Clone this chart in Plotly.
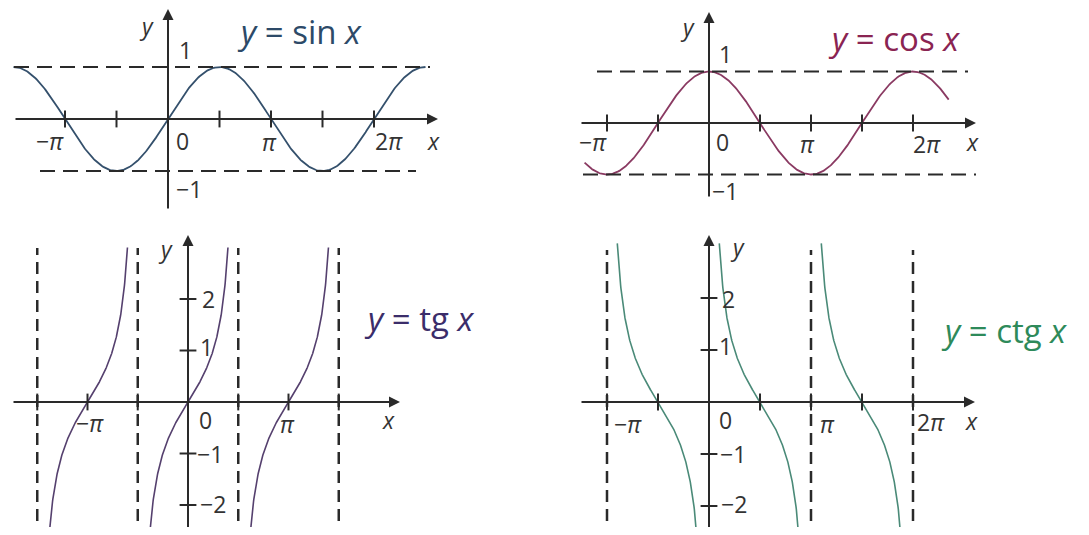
import numpy as np
import plotly.graph_objects as go

W, H = 1089, 535
OFF = 8                      # page body margin
FW, FH = W - 2 * OFF, H - 2 * OFF
PI = np.pi

# panel geometry in screen pixels: box (x0, x1, y0, y1), origin (ox, oy), px per pi, px per unit
panels = {
    "sin": dict(box=(8, 455, 8, 218), o=(168, 119), kx=103, ky=52),
    "cos": dict(box=(560, 1000, 8, 218), o=(709, 123), kx=102, ky=51.5),
    "tg": dict(box=(8, 545, 222, 527), o=(188, 402), kx=100.5, ky=51.5),
    "ctg": dict(box=(560, 1081, 222, 527), o=(709, 402), kx=102, ky=52),
}

# function ranges (in multiples of pi)
sin_x = (-1.5, 2.5)
cos_x = (-1.22, 2.35)
tg_centers = [-1, 0, 1]          # branches centred on k*pi
ctg_starts = [-1, 0, 1]          # branches on (k*pi, (k+1)*pi)
tg_top, tg_bottom = 3.0, -4.0
ctg_top, ctg_bottom = 3.05, -4.0

# tick positions (multiples of pi) and y ticks
sin_xticks = [-1, -0.5, 0.5, 1, 1.5, 2]
cos_xticks = [-1, -0.5, 0.5, 1, 1.5, 2]
tg_xticks = [-1.5, -1, -0.5, 0.5, 1, 1.5]
ctg_xticks = [-1, -0.5, 0.5, 1, 1.5, 2]
tg_yticks = [2, 1, -1, -2]
ctg_yticks = [2, 1, -1, -2]
tg_asymptotes = [-1.5, -0.5, 0.5, 1.5]
ctg_asymptotes = [-1, 1, 2]

titles = {"sin": "<i>y</i> = sin <i>x</i>", "cos": "<i>y</i> = cos <i>x</i>",
          "tg": "<i>y</i> = tg <i>x</i>", "ctg": "<i>y</i> = ctg <i>x</i>"}
title_colors = {"sin": "#2d4a68", "cos": "#8a2452", "tg": "#3b2d6a", "ctg": "#2e8a5a"}
curve_colors = {"sin": "#34506c", "cos": "#8a3a62", "tg": "#55406e", "ctg": "#4a8a78"}

# text labels: (text, px, py)
labels = {
    "sin": [("<i>y</i>", 146, 26), ("1", 185, 50), ("0", 182, 141), ("−1", 189, 189),
            ("−<i>π</i>", 50, 141), ("<i>π</i>", 269, 142), ("2<i>π</i>", 389, 141), ("<i>x</i>", 433, 141)],
    "cos": [("<i>y</i>", 687, 27), ("1", 725, 54), ("0", 722, 142), ("−1", 725, 191),
            ("−<i>π</i>", 593, 142), ("<i>π</i>", 807, 144), ("2<i>π</i>", 927, 144), ("<i>x</i>", 972, 142)],
    "tg": [("<i>y</i>", 165, 249), ("2", 208, 299), ("1", 206, 347), ("0", 205, 420), ("−1", 210, 454),
           ("−2", 213, 504), ("−<i>π</i>", 90, 423), ("<i>π</i>", 287, 424), ("<i>x</i>", 388, 420)],
    "ctg": [("<i>y</i>", 737, 247), ("2", 728, 299), ("1", 725, 346), ("0", 725, 420), ("−1", 733, 454),
            ("−2", 734, 504), ("−<i>π</i>", 628, 424), ("<i>π</i>", 827, 424), ("2<i>π</i>", 931, 422),
            ("<i>x</i>", 971, 421)],
}
title_pos = {"sin": (299, 31), "cos": (894, 38), "tg": (419, 318), "ctg": (1004, 330)}

# axis extents in pixels: x-axis (left, right), y-axis (bottom, top)
axis_px = {"sin": ((14, 438), (210, 9)), "cos": ((580, 976), (198, 12)),
           "tg": ((12, 400), (540, 235)), "ctg": ((580, 975), (540, 235))}
# dashed horizontal lines (y, left px, right px)
hdash = {"sin": [(1, 14, 430), (-1, 40, 416)], "cos": [(1, 597, 968), (-1, 583, 976)]}

AXC = "#2a2a2a"
fig = go.Figure()


def p2d(name, px, py):
    p = panels[name]
    return (px - p["o"][0]) / p["kx"] * PI, (p["o"][1] - py) / p["ky"]


order = ["sin", "cos", "tg", "ctg"]
for i, name in enumerate(order):
    p = panels[name]
    x0, x1, y0, y1 = p["box"]
    xa = "xaxis" if i == 0 else f"xaxis{i + 1}"
    ya = "yaxis" if i == 0 else f"yaxis{i + 1}"
    xr = "x" if i == 0 else f"x{i + 1}"
    yr = "y" if i == 0 else f"y{i + 1}"
    p["xr"], p["yr"] = xr, yr
    dx0, dy1 = p2d(name, x0, y1)
    dx1, dy0 = p2d(name, x1, y0)
    fig.update_layout({
        xa: dict(domain=[(x0 - OFF) / FW, (x1 - OFF) / FW], range=[dx0, dx1], visible=False, fixedrange=True),
        ya: dict(domain=[1 - (y1 - OFF) / FH, 1 - (y0 - OFF) / FH], range=[dy1, dy0], visible=False,
                 fixedrange=True),
    })

    # axes with arrows
    (ax_l, ax_r), (ay_b, ay_t) = axis_px[name]
    xl, _ = p2d(name, ax_l, 0)
    xrr, _ = p2d(name, ax_r, 0)
    _, yb = p2d(name, 0, ay_b)
    _, yt = p2d(name, 0, ay_t)
    for (tx, ty, sx, sy) in [(xrr, 0, xl, 0), (0, yt, 0, yb)]:
        fig.add_annotation(x=tx, y=ty, ax=sx, ay=sy, xref=xr, yref=yr, axref=xr, ayref=yr,
                           text="", showarrow=True, arrowhead=2, arrowsize=1.1, arrowwidth=2,
                           arrowcolor=AXC, standoff=0)

    # dashed lines
    for (yv, l, r) in hdash.get(name, []):
        dl, _ = p2d(name, l, 0)
        dr, _ = p2d(name, r, 0)
        fig.add_shape(type="line", xref=xr, yref=yr, x0=dl, x1=dr, y0=yv, y1=yv,
                      line=dict(color=AXC, width=2, dash="15px,8px"))

    # title and labels
    tx, ty = p2d(name, *title_pos[name])
    fig.add_annotation(x=tx, y=ty, xref=xr, yref=yr, text=titles[name], showarrow=False,
                       font=dict(family="Open Sans", size=33, color=title_colors[name]))
    for (t, lx, ly) in labels[name]:
        dxl, dyl = p2d(name, lx, ly)
        fig.add_annotation(x=dxl, y=dyl, xref=xr, yref=yr, text=t, showarrow=False,
                           font=dict(family="Open Sans", size=23, color="#333333"))

# curves
xs = np.linspace(sin_x[0] * PI, sin_x[1] * PI, 400)
fig.add_trace(go.Scatter(x=xs, y=np.sin(xs), mode="lines", xaxis="x", yaxis="y",
                         line=dict(color=curve_colors["sin"], width=1.8)))
xc = np.linspace(cos_x[0] * PI, cos_x[1] * PI, 400)
fig.add_trace(go.Scatter(x=xc, y=np.cos(xc), mode="lines", xaxis="x2", yaxis="y2",
                         line=dict(color=curve_colors["cos"], width=1.8)))
for k in tg_centers:
    xt = np.linspace(k * PI + np.arctan(tg_bottom), k * PI + np.arctan(tg_top), 300)
    fig.add_trace(go.Scatter(x=xt, y=np.tan(xt), mode="lines", xaxis="x3", yaxis="y3",
                             line=dict(color=curve_colors["tg"], width=1.6)))
for k in ctg_starts:
    xk = np.linspace(k * PI + np.arctan(1 / ctg_top), k * PI + PI / 2 + np.arctan(-ctg_bottom), 300)
    fig.add_trace(go.Scatter(x=xk, y=1 / np.tan(xk), mode="lines", xaxis="x4", yaxis="y4",
                             line=dict(color=curve_colors["ctg"], width=1.6)))

# vertical asymptotes
for name, vals, top_px in [("tg", tg_asymptotes, 248), ("ctg", ctg_asymptotes, 250)]:
    p = panels[name]
    _, ytop = p2d(name, 0, top_px)
    _, ybot = p2d(name, 0, 540)
    for v in vals:
        fig.add_shape(type="line", xref=p["xr"], yref=p["yr"], x0=v * PI, x1=v * PI, y0=ybot, y1=ytop,
                      line=dict(color=AXC, width=2.5, dash="12px,7px"))

# tick marks
for name, ticks in [("sin", sin_xticks), ("cos", cos_xticks), ("tg", tg_xticks), ("ctg", ctg_xticks)]:
    p = panels[name]
    fig.add_trace(go.Scatter(x=[t * PI for t in ticks], y=[0] * len(ticks), mode="markers",
                             xaxis=p["xr"], yaxis=p["yr"],
                             marker=dict(symbol="line-ns-open", size=12, color=AXC,
                                         line=dict(color=AXC, width=2))))
for name, ticks in [("tg", tg_yticks), ("ctg", ctg_yticks)]:
    p = panels[name]
    fig.add_trace(go.Scatter(x=[0] * len(ticks), y=ticks, mode="markers",
                             xaxis=p["xr"], yaxis=p["yr"],
                             marker=dict(symbol="line-ew-open", size=12, color=AXC,
                                         line=dict(color=AXC, width=2))))

fig.update_layout(width=FW, height=FH, margin=dict(l=0, r=0, t=0, b=0),
                  plot_bgcolor="white", paper_bgcolor="white", showlegend=False)

fig.write_html("out.html")
